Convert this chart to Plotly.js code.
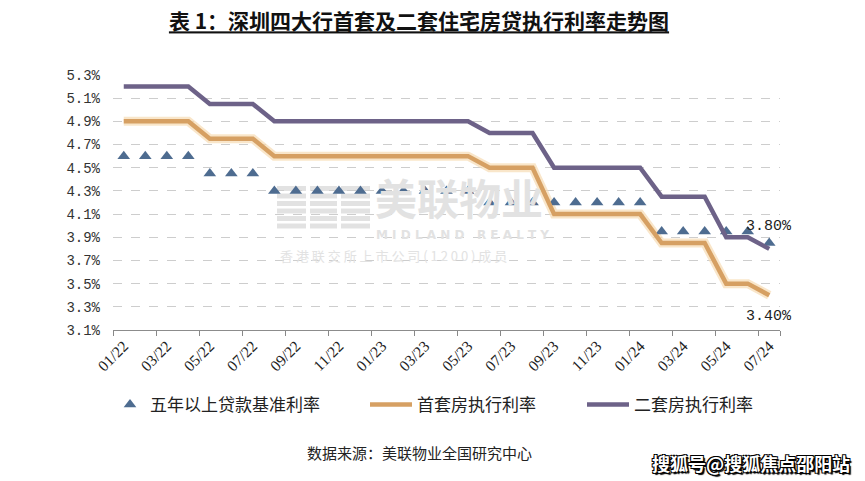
<!DOCTYPE html>
<html>
<head>
<meta charset="utf-8">
<script src="https://cdn.plot.ly/plotly-3.0.1.min.js"></script>
<style>html,body{margin:0;padding:0;background:#fff;}#chart{width:865px;height:481px;}</style>
</head>
<body>
<div id="chart"></div>
<script>
// ---- data ----
const months = ["01/22","02/22","03/22","04/22","05/22","06/22","07/22","08/22","09/22","10/22","11/22","12/22",
                "01/23","02/23","03/23","04/23","05/23","06/23","07/23","08/23","09/23","10/23","11/23","12/23",
                "01/24","02/24","03/24","04/24","05/24","06/24","07/24"];
const tickLabels = ["01/22","03/22","05/22","07/22","09/22","11/22","01/23","03/23","05/23","07/23","09/23","11/23","01/24","03/24","05/24","07/24"];
const lpr5y = [4.60,4.60,4.60,4.60,4.45,4.45,4.45,4.30,4.30,4.30,4.30,4.30,
               4.30,4.30,4.30,4.30,4.30,4.20,4.20,4.20,4.20,4.20,4.20,4.20,
               4.20,3.95,3.95,3.95,3.95,3.95,3.85];
const firstHome = [4.90,4.90,4.90,4.90,4.75,4.75,4.75,4.60,4.60,4.60,4.60,4.60,
                   4.60,4.60,4.60,4.60,4.60,4.50,4.50,4.50,4.10,4.10,4.10,4.10,
                   4.10,3.85,3.85,3.85,3.50,3.50,3.40];
const secondHome = [5.20,5.20,5.20,5.20,5.05,5.05,5.05,4.90,4.90,4.90,4.90,4.90,
                    4.90,4.90,4.90,4.90,4.90,4.80,4.80,4.80,4.50,4.50,4.50,4.50,
                    4.50,4.25,4.25,4.25,3.90,3.90,3.80];
const yTicks = [3.1,3.3,3.5,3.7,3.9,4.1,4.3,4.5,4.7,4.9,5.1,5.3];
const yTickText = ["3.1%","3.3%","3.5%","3.7%","3.9%","4.1%","4.3%","4.5%","4.7%","4.9%","5.1%","5.3%"];
const seriesNames = ["五年以上贷款基准利率","首套房执行利率","二套房执行利率"];

// ---- geometry helpers (style only) ----
const W = 865, H = 481, L = 113, R = 85, T = 75, B = 151;
const px = x => (x - L) / (W - L - R);
const py = y => (H - B - y) / (H - T - B);
const cx = x => x / W;
const cy = y => 1 - y / H;

const cjk = '"Noto Sans CJK SC", "Noto Sans", sans-serif';
const orange = '#D6A063', purple = '#6D6288', blue = '#4E6C90';

const traces = [
  {x: months, y: firstHome, type: 'scatter', mode: 'lines', line: {color: 'rgba(247,220,180,0.7)', width: 9},
   hoverinfo: 'skip', showlegend: false},
  {x: months, y: lpr5y, name: seriesNames[0], type: 'scatter', mode: 'markers',
   marker: {symbol: 'triangle-up', size: 11, color: blue}, legend: 'legend'},
  {x: months, y: firstHome, name: seriesNames[1], type: 'scatter', mode: 'lines',
   line: {color: orange, width: 4.5}, legend: 'legend2'},
  {x: months, y: secondHome, name: seriesNames[2], type: 'scatter', mode: 'lines',
   line: {color: purple, width: 4.5}, legend: 'legend3'}
];

// watermark icon (decoration)
const shapes = [];
const wm = '#e2e2e2';
[[277,306],[310,337],[341,370]].forEach(([a,b]) => {
  for (let i = 0; i < 6; i++) {
    const y0 = 186 + i * 7.5;
    shapes.push({type:'rect', xref:'paper', yref:'paper', layer:'below', line:{width:0}, fillcolor: wm,
      x0: px(a), x1: px(b), y0: py(y0), y1: py(y0 + 5)});
  }
});

const legendBase = {orientation: 'h', xref: 'container', yref: 'container', yanchor: 'middle', xanchor: 'left',
  font: {family: cjk, size: 17, color: '#222'}, bgcolor: 'rgba(0,0,0,0)', itemwidth: 30, itemclick: false};

const layout = {
  width: W, height: H,
  margin: {l: L, r: R, t: T, b: B, pad: 0},
  paper_bgcolor: '#fff', plot_bgcolor: '#fff',
  title: {text: '表 1：深圳四大行首套及二套住宅房贷执行利率走势图', x: cx(419), xanchor: 'center', y: cy(22), yanchor: 'middle',
    font: {family: cjk, size: 21, color: '#111', weight: 'bold', lineposition: 'under'}},
  xaxis: {type: 'category', tickmode: 'array', tickvals: tickLabels, ticktext: tickLabels, tickson: 'boundaries',
    range: [-0.5, 30.5], tickangle: -45, ticks: 'outside', ticklen: 5, tickcolor: '#888',
    showline: true, linecolor: '#8c8c8c', linewidth: 1, showgrid: false, zeroline: false,
    tickfont: {family: '"Liberation Serif", serif', size: 15.5, color: '#222'}},
  yaxis: {range: [3.1, 5.3], tickmode: 'array', tickvals: yTicks, ticktext: yTickText,
    showgrid: true, gridcolor: '#cdcdcd', griddash: 'dash', gridwidth: 1, zeroline: false, showline: false,
    ticks: '', ticklabelstandoff: 12,
    tickfont: {family: '"Liberation Mono", monospace', size: 14, color: '#333'}},
  legend: Object.assign({}, legendBase, {x: cx(110), y: cy(405)}),
  legend2: Object.assign({}, legendBase, {x: cx(365), y: cy(405), itemwidth: 42}),
  legend3: Object.assign({}, legendBase, {x: cx(582), y: cy(405), itemwidth: 42}),
  shapes: shapes,
  annotations: [
    {x: months[30], y: secondHome[30], xref: 'x', yref: 'y', text: secondHome[30].toFixed(2) + '%', showarrow: false,
     xanchor: 'center', yanchor: 'middle', yshift: 22, font: {family: '"Liberation Mono", monospace', size: 15, color: '#222'}},
    {x: months[30], y: firstHome[30], xref: 'x', yref: 'y', text: firstHome[30].toFixed(2) + '%', showarrow: false,
     xanchor: 'center', yanchor: 'middle', yshift: -21, font: {family: '"Liberation Mono", monospace', size: 15, color: '#222'}},
    // watermark text
    {xref: 'paper', yref: 'paper', x: px(373), y: py(196), text: '<b>美联物业</b>', showarrow: false,
     xanchor: 'left', yanchor: 'middle', font: {family: cjk, size: 42, color: wm}},
    {xref: 'paper', yref: 'paper', x: px(374), y: py(235), text: '<b>M I D L A N D   R E A L T Y</b>', showarrow: false,
     xanchor: 'left', yanchor: 'middle', font: {family: '"DejaVu Sans", sans-serif', size: 12, color: wm}},
    {xref: 'paper', yref: 'paper', x: px(278), y: py(256), text: '香 港 联 交 所 上 市 公 司 ( 1 2 0 0 ) 成 员', showarrow: false,
     xanchor: 'left', yanchor: 'middle', font: {family: cjk, size: 13, color: wm}},
    // source
    {xref: 'paper', yref: 'paper', x: px(419), y: py(452), text: '数据来源：美联物业全国研究中心', showarrow: false,
     xanchor: 'center', yanchor: 'middle', font: {family: cjk, size: 15, color: '#222'}},
    // sohu mark
    {xref: 'paper', yref: 'paper', x: px(751), y: py(463), text: '<b>搜狐号@搜狐焦点邵阳站</b>', showarrow: false,
     xanchor: 'center', yanchor: 'middle',
     font: {family: cjk, size: 18, color: '#fff',
       shadow: '1px 1px 0 #000, -1px -1px 0 #000, 1px -1px 0 #000, -1px 1px 0 #000, 2px 2px 1px #000'}}
  ]
};

Plotly.newPlot('chart', traces, layout, {displayModeBar: false, staticPlot: true});
</script>
</body>
</html>
